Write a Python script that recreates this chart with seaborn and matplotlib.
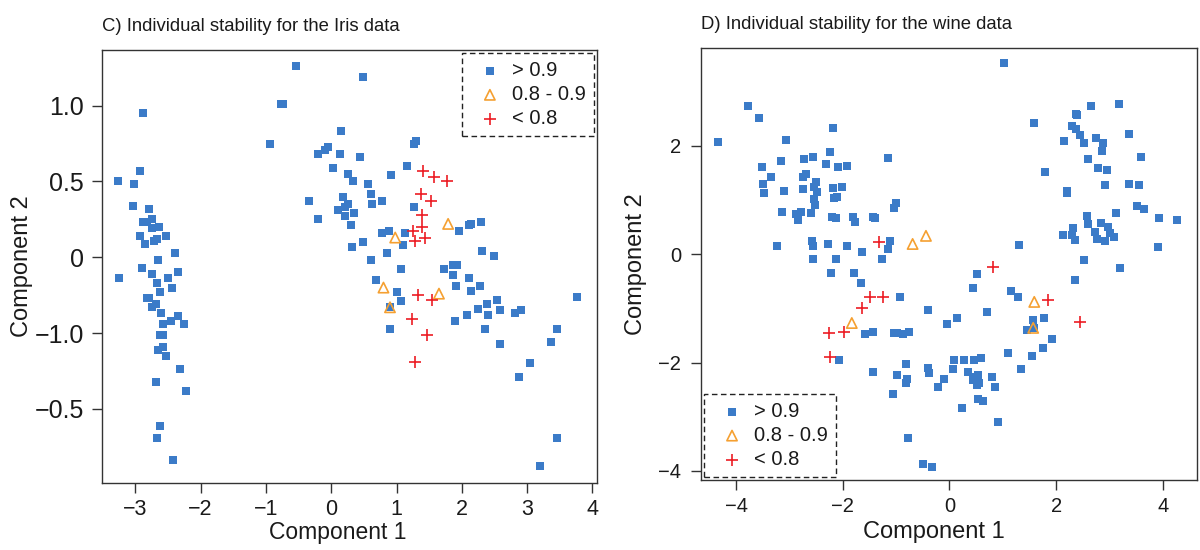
import numpy as np
import pandas as pd
import matplotlib
matplotlib.use("Agg")
import matplotlib.pyplot as plt
import seaborn as sns

# ---------------- data ----------------
iris_hi_x = [-2.93, -3.26, -3.02, -3.03, -2.79, -2.88, -2.82, -2.74, -2.74, -2.63,
             -2.93, -2.85, -2.71, -2.67, -2.53, -2.39, -2.65, -2.89, -3.25, -2.74,
             -2.34, -2.50, -2.67, -2.44, -2.62, -2.82, -2.79, -2.74, -2.68, -2.60,
             -2.45, -2.34, -2.25, -2.57, -2.62, -2.57, -2.65, -2.57, -2.53, -2.31,
             -2.68, -2.22, -2.62, -2.67, -2.42, -2.88,
             -0.93, -0.77, -0.74, -0.54, 0.49, 0.15, 1.30, 1.27, -0.21, -0.09,
             -0.05, 0.14, 0.44, 0.02, 1.16, 0.25, 0.34, 0.92, 0.57, -0.34,
             0.18, 0.61, 0.78, 0.26, 0.21, 0.11,
             0.63, 0.35, 0.21, -0.20, 0.31, 1.27, 0.78, 0.89, 1.13, 1.10,
             0.49, 0.32, 0.86, 0.61, 1.95, 2.11, 2.14, 2.30, 2.31, 2.50,
             1.73, 1.87, 1.93, 1.87, 2.11, 2.28,
             1.91, 2.14, 1.07, 0.69, 1.01, 2.54, 3.77, 1.07, 0.90, 0.90,
             1.90, 2.08, 2.25, 2.39, 2.40, 2.59, 2.36, 2.59, 2.82, 2.91,
             3.46, 3.37, 3.05, 2.88, 3.46, 3.20]
iris_hi_y = [0.57, 0.50, 0.48, 0.34, 0.32, 0.23, 0.23, 0.25, 0.19, 0.20,
             0.14, 0.09, 0.11, 0.12, 0.14, 0.03, -0.02, -0.07, -0.14, -0.11,
             -0.10, -0.14, -0.17, -0.20, -0.23, -0.27, -0.27, -0.33, -0.31, -0.37,
             -0.42, -0.39, -0.44, -0.44, -0.51, -0.51, -0.61, -0.59, -0.65, -0.74,
             -0.82, -0.88, -1.11, -1.19, -1.34, 0.95,
             0.75, 1.01, 1.01, 1.26, 1.19, 0.83, 0.77, 0.75, 0.68, 0.71,
             0.73, 0.68, 0.66, 0.59, 0.60, 0.55, 0.50, 0.54, 0.48, 0.37,
             0.40, 0.42, 0.37, 0.35, 0.33, 0.31,
             0.35, 0.29, 0.27, 0.25, 0.21, 0.33, 0.16, 0.17, 0.16, 0.08,
             0.10, 0.07, 0.03, -0.02, 0.17, 0.21, 0.22, 0.23, 0.04, 0.01,
             -0.08, -0.05, -0.05, -0.12, -0.14, -0.19,
             -0.19, -0.22, -0.08, -0.15, -0.23, -0.28, -0.26, -0.29, -0.47, -0.33,
             -0.42, -0.38, -0.34, -0.31, -0.38, -0.35, -0.47, -0.57, -0.37, -0.35,
             -0.47, -0.56, -0.70, -0.79, -1.19, -1.38]
iris_mid_x = [0.98, 1.79, 0.80, 1.65, 0.90]
iris_mid_y = [0.13, 0.22, -0.20, -0.24, -0.33]
iris_lo_x = [1.41, 1.58, 1.78, 1.38, 1.53, 1.39, 1.39, 1.26, 1.44, 1.29,
             1.33, 1.55, 1.23, 1.46, 1.29]
iris_lo_y = [0.57, 0.53, 0.50, 0.42, 0.37, 0.28, 0.20, 0.17, 0.13, 0.11,
             -0.25, -0.28, -0.41, -0.51, -0.69]

wine_hi_x = [-3.78, -3.57, -4.34, -3.07, -2.19, -2.24, -3.52, -3.16, -2.73, -2.56,
             -2.32, -2.09, -1.92, -1.15, -3.35, -3.50, -3.48, -3.11, -2.75, -2.69,
             -2.75, -2.51, -2.49, -2.54, -2.19, -2.02, -2.17, -2.11, -2.54, -2.52,
             -1.00, -1.04, -3.14, -2.88, -2.84, -2.79, -2.60, -2.21, -2.13, -1.81,
             -1.77, -1.44, -1.40, -3.24, -2.58, -2.56, -2.28, -1.92, -1.64, -1.12,
             -1.15, -2.56, -2.13, -1.27, -2.22, -1.79, -1.66, -0.93, -1.59, -1.44,
             -1.04, -0.99, -0.87, -0.76, -2.07, -1.44, -0.82, -0.99, -0.82, -0.80,
             -1.06, -0.78, -0.40, 1.30, 0.52, 0.44, -0.05, 0.14, 0.70, 1.15,
             1.29, 1.77, 1.57, 1.59, 1.45, 1.92, 1.75, 1.55, 1.10, 1.34,
             -0.40, -0.39, -0.22, -0.10, 0.08, 0.07, 0.27, 0.46, 0.59, 0.35,
             0.48, 0.54, 0.44, 0.52, 0.55, 0.80, 0.85, 0.54, 0.63, 0.24,
             0.91, -0.50, -0.33, 2.13, 2.30, 2.36, 2.36, 2.52, 3.20, 1.02,
             1.59, 1.79, 2.37, 2.39, 2.66, 3.18, 2.30, 2.37, 2.45, 2.15,
             2.52, 2.75, 2.88, 2.86, 3.37, 3.59, 2.60, 2.79, 2.96, 2.92,
             3.37, 3.56, 2.21, 2.21, 3.52, 3.65, 3.12, 3.93, 4.27, 2.58,
             2.60, 2.84, 2.97, 3.01, 3.09, 2.73, 2.77, 2.92, 2.32, 3.91]
wine_hi_y = [2.74, 2.52, 2.08, 2.11, 2.34, 1.89, 1.61, 1.72, 1.76, 1.80,
             1.67, 1.61, 1.63, 1.78, 1.43, 1.30, 1.13, 1.17, 1.43, 1.48,
             1.21, 1.34, 1.15, 1.24, 1.23, 1.24, 1.04, 1.06, 1.02, 0.91,
             0.95, 0.86, 0.78, 0.74, 0.63, 0.78, 0.76, 0.69, 0.67, 0.69,
             0.60, 0.69, 0.67, 0.15, 0.25, 0.15, 0.19, 0.15, 0.04, 0.25,
             0.10, -0.09, -0.09, -0.09, -0.35, -0.35, -0.53, -0.79, -1.47, -1.44,
             -1.46, -1.46, -1.47, -1.44, -1.95, -2.18, -2.03, -2.23, -2.38, -2.31,
             -2.58, -3.40, -1.03, 0.17, -0.36, -0.62, -1.29, -1.18, -1.07, -0.68,
             -0.79, -1.18, -1.21, -1.36, -1.40, -1.57, -1.73, -1.88, -1.82, -2.12,
             -2.10, -2.19, -2.45, -2.31, -1.95, -2.12, -1.95, -1.95, -1.92, -2.18,
             -2.27, -2.23, -2.32, -2.42, -2.38, -2.27, -2.45, -2.68, -2.71, -2.84,
             -3.10, -3.88, -3.93, 0.36, 0.36, 0.26, -0.48, -0.11, -0.25, 3.54,
             2.43, 1.52, 2.59, 2.58, 2.74, 2.78, 2.37, 2.32, 2.21, 2.09,
             2.06, 2.15, 2.06, 1.91, 2.22, 1.80, 1.76, 1.60, 1.56, 1.28,
             1.30, 1.28, 1.17, 1.13, 0.89, 0.84, 0.76, 0.67, 0.63, 0.71,
             0.56, 0.58, 0.51, 0.39, 0.32, 0.41, 0.28, 0.25, 0.49, 0.14]
wine_mid_x = [-0.69, -0.44, -1.83, 1.59, 1.57]
wine_mid_y = [0.19, 0.34, -1.27, -0.88, -1.36]
wine_lo_x = [-1.32, -1.49, -1.25, -1.64, -1.98, -2.26, -2.24, 0.82, 1.85, 2.45]
wine_lo_y = [0.23, -0.79, -0.79, -0.99, -1.44, -1.46, -1.90, -0.24, -0.85, -1.25]

group_labels = ["> 0.9", "0.8 - 0.9", "< 0.8"]

iris_xticks = [-3, -2, -1, 0, 1, 2, 3, 4]
iris_yticks = [1.0, 0.5, 0.0, -0.5, -1.0]
iris_yticklabels = ["1.0", "0.5", "0", "\u22121.0", "\u22120.5"]
wine_xticks = [-4, -2, 0, 2, 4]
wine_yticks = [2, 0, -2, -4]

titles = ["C) Individual stability for the Iris data",
          "D) Individual stability for the wine data"]

# ---------------- style ----------------
sns.set_theme(style="white")
plt.rcParams["font.family"] = ["Liberation Sans", "DejaVu Sans"]
plt.rcParams["axes.unicode_minus"] = True

BLUE = "#3b7bc8"
ORANGE = "#f5a031"
RED = "#ec1c24"
INK = "#1a1a1a"

fig = plt.figure(figsize=(12, 5.5), dpi=100)
ax1 = fig.add_axes([0.085, 0.1218, 0.4125, 0.7873])
ax2 = fig.add_axes([0.584, 0.1273, 0.4135, 0.7854])


def draw(ax, hx, hy, mx, my, lx, ly):
    sns.scatterplot(x=hx, y=hy, ax=ax, marker="s", s=28, color=BLUE,
                    linewidth=0, label=group_labels[0], zorder=2)
    sns.scatterplot(x=mx, y=my, ax=ax, marker="^", s=55, color=ORANGE,
                    label=group_labels[1], zorder=3)
    coll = ax.collections[-1]
    coll.set_facecolor("none")
    coll.set_edgecolor(ORANGE)
    coll.set_linewidth(1.2)
    sns.scatterplot(x=lx, y=ly, ax=ax, marker="+", s=80, color=RED,
                    linewidth=1.2, label=group_labels[2], zorder=4)


draw(ax1, iris_hi_x, iris_hi_y, iris_mid_x, iris_mid_y, iris_lo_x, iris_lo_y)
draw(ax2, wine_hi_x, wine_hi_y, wine_mid_x, wine_mid_y, wine_lo_x, wine_lo_y)

ax1.set_xlim(-3.51, 4.07)
ax1.set_ylim(-1.489, 1.367)
ax2.set_xlim(-4.66, 4.64)
ax2.set_ylim(-4.17, 3.81)

ax1.set_xticks(iris_xticks)
ax1.set_yticks(iris_yticks)
ax1.set_yticklabels(iris_yticklabels)
ax2.set_xticks(wine_xticks)
ax2.set_yticks(wine_yticks)

for ax in (ax1, ax2):
    for sp in ax.spines.values():
        sp.set_visible(True)
        sp.set_color("#333333")
        sp.set_linewidth(1.0)
    ax.tick_params(axis="both", which="major", direction="out", length=7,
                   width=1.0, color="#333333", labelcolor=INK,
                   left=True, bottom=True)
    ax.grid(False)

ax1.tick_params(axis="y", labelsize=18, pad=6)
ax1.tick_params(axis="x", labelsize=15.5, pad=4.5)
ax2.tick_params(axis="y", labelsize=14.5, pad=7)
ax2.tick_params(axis="x", labelsize=14.5, pad=5)

for ax, t in zip((ax1, ax2), titles):
    ax.set_title(t, loc="left", fontsize=13.3, color=INK, pad=14)

ax1.set_xlabel("Component 1", fontsize=16.5, color=INK)
ax1.set_ylabel("Component 2", fontsize=17, color=INK)
ax2.set_xlabel("Component 1", fontsize=17, color=INK)
ax2.set_ylabel("Component 2", fontsize=17, color=INK)
ax1.xaxis.set_label_coords(0.477, -0.088)
ax2.xaxis.set_label_coords(0.47, -0.094)
ax1.yaxis.set_label_coords(-0.161, 0.5)
ax2.yaxis.set_label_coords(-0.131, 0.5)
ax1.yaxis.label.set_va("center")
ax2.yaxis.label.set_va("center")

legkw = dict(frameon=True, fancybox=False, fontsize=14.5, handlelength=2.0,
             handletextpad=0.1, borderpad=0.4, labelspacing=0.25,
             scatterpoints=1, borderaxespad=0.15)
leg1 = ax1.legend(loc="upper right", **legkw)
leg2 = ax2.legend(loc="lower left", **legkw)
for leg in (leg1, leg2):
    fr = leg.get_frame()
    fr.set_edgecolor("#222222")
    fr.set_linewidth(1.0)
    fr.set_linestyle((0, (4, 2.5)))
    fr.set_facecolor("white")
    fr.set_alpha(1)
    for txt in leg.get_texts():
        txt.set_color(INK)

fig.savefig("out.png", dpi=100, facecolor="white")
